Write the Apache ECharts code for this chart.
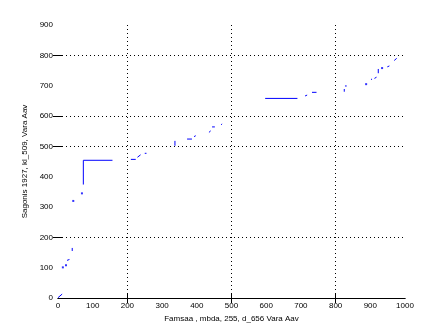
<!DOCTYPE html>
<html>
<head>
<meta charset="utf-8">
<script src="https://cdn.jsdelivr.net/npm/echarts@6/dist/echarts.min.js"></script>
<style>html,body{margin:0;padding:0;background:#fff}#c{width:447px;height:335px}</style>
</head>
<body>
<div id="c"></div>
<script>
// Segments of the curve (each inner array is one connected piece)
const segments = [
  [[0,1],[12,13]],
  [[14,101]],
  [[23,108]],
  [[26,124],[33,127]],
  [[41,155],[41,165]],
  [[44,320]],
  [[69,345]],
  [[73,374],[73,454],[157,454]],
  [[210,457],[224,457]],
  [[229,464],[238,472]],
  [[250,477],[255,477]],
  [[337,502],[337,518]],
  [[372,524],[386,524]],
  [[392,532],[397,535]],
  [[435,546],[440,551]],
  [[444,564],[452,564]],
  [[470,571],[473,574]],
  [[597,658],[690,658]],
  [[712,666],[718,669]],
  [[732,678],[745,678]],
  [[825,680],[825,689]],
  [[827,699],[832,699]],
  [[888,705]],
  [[902,721],[905,721]],
  [[912,724],[918,728]],
  [[923,741],[923,755]],
  [[934,758]],
  [[949,762],[955,765]],
  [[969,783],[976,790]]
];
const xGridValues = [200, 500, 800];
const yGridValues = [200, 500, 600, 800];
const xTitle = 'Famsaa , mbda, 255, d_656 Vara Aav';
const yTitle = 'Sagonis 1927, kl_509, Vara Aav';

const lineData = [];
const dotData = [];
segments.forEach((s, i) => {
  if (i > 0) lineData.push([null, null]);
  s.forEach(p => lineData.push(p));
  if (s.length === 1) dotData.push(s[0]);
});

const font = {fontFamily: 'Liberation Sans', fontSize: 8, color: '#000'};
const chart = echarts.init(document.getElementById('c'), null, {renderer: 'canvas'});
chart.setOption({
  animation: false,
  backgroundColor: '#fff',
  grid: {left: 58, right: 42, top: 25, bottom: 37},
  xAxis: [{
    type: 'value', min: 0, max: 1000, interval: 100,
    name: xTitle, nameLocation: 'middle', nameGap: 14,
    nameTextStyle: font,
    axisLine: {show: true, lineStyle: {color: '#000', width: 1}},
    axisTick: {show: true, inside: true, length: 5, customValues: xGridValues, lineStyle: {color: '#000'}},
    axisLabel: Object.assign({margin: 4, formatter: v => String(v)}, font),
    splitLine: {show: false}
  }, {
    type: 'value', min: 0, max: 1000, position: 'top',
    axisLine: {show: true, lineStyle: {color: '#000', width: 1}},
    axisTick: {show: true, inside: true, length: 5, customValues: xGridValues, lineStyle: {color: '#000'}},
    axisLabel: {show: false},
    splitLine: {show: false}
  }],
  yAxis: [{
    type: 'value', min: 0, max: 900, interval: 100,
    name: yTitle, nameLocation: 'middle', nameGap: 23,
    nameTextStyle: font,
    axisLine: {show: false},
    axisTick: {show: true, inside: true, length: 5, customValues: yGridValues, lineStyle: {color: '#000'}},
    axisLabel: Object.assign({margin: 5, formatter: v => String(v)}, font),
    splitLine: {show: false}
  }, {
    type: 'value', min: 0, max: 900, position: 'right',
    axisLine: {show: false},
    axisTick: {show: true, inside: true, length: 5, customValues: yGridValues, lineStyle: {color: '#000'}},
    axisLabel: {show: false},
    splitLine: {show: false}
  }],
  series: [{
    type: 'line',
    data: lineData,
    connectNulls: false,
    showSymbol: false,
    lineStyle: {color: '#0000ff', width: 1},
    silent: true,
    markLine: {
      silent: true,
      symbol: ['none', 'none'],
      label: {show: false},
      lineStyle: {color: '#000', type: [1, 3], width: 1},
      data: xGridValues.map(v => ({xAxis: v})).concat(yGridValues.map(v => ({yAxis: v})))
    }
  }, {
    type: 'scatter',
    data: dotData,
    symbol: 'rect',
    symbolSize: 2,
    itemStyle: {color: '#0000ff'},
    silent: true
  }]
});
</script>
</body>
</html>
